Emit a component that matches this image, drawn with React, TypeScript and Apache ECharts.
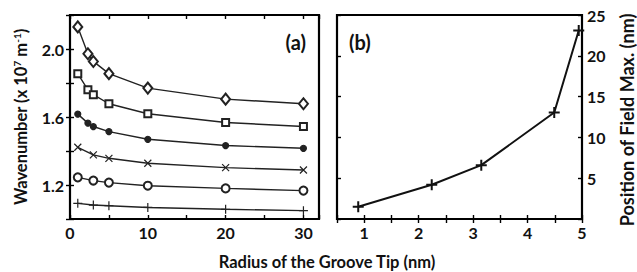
import React, { useEffect, useRef } from "react";
import * as echarts from "echarts";

// Panel (a): wavenumber vs radius of the groove tip
const radiusFull = [1, 2.3, 3, 5, 10, 20, 30];
const radiusShort = [1, 3, 5, 10, 20, 30];
const diamondVals = [2.13, 1.972, 1.927, 1.855, 1.77, 1.705, 1.678];
const squareVals = [1.855, 1.76, 1.731, 1.678, 1.619, 1.568, 1.544];
const dotVals = [1.617, 1.564, 1.544, 1.514, 1.469, 1.432, 1.416];
const crossVals = [1.422, 1.377, 1.357, 1.328, 1.302, 1.288];
const circleVals = [1.245, 1.226, 1.214, 1.196, 1.18, 1.167];
const plusVals = [1.092, 1.082, 1.078, 1.068, 1.057, 1.049];

// Panel (b): position of field max vs radius
const radiusB = [0.89, 2.24, 3.15, 4.49, 4.94];
const fieldMaxB = [1.5, 4.2, 6.6, 13.05, 23.1];

const aXLabels = [0, 10, 20, 30];
const aYLabels = ["1.2", "1.6", "2.0"];
const bXLabels = [1, 2, 3, 4, 5];
const bYLabels = [5, 10, 15, 20, 25];

const FONT = "Lato, 'Open Sans', sans-serif";
const INK = "#111";
const LINE = "#222";

const zip = (xs: number[], ys: number[]) => xs.map((x, i) => [x, ys[i]]);

const crossPath = "path://M0,0L10,10M10,0L0,10";
const plusPath = "path://M5,0L5,10M0,5L10,5";

export default function App() {
  const ref = useRef<HTMLDivElement>(null);
  useEffect(() => {
    if (!ref.current) return;
    const chart = echarts.init(ref.current, undefined, { renderer: "svg" });
    const tick = { show: true, inside: true, length: 4, lineStyle: { color: "#000", width: 1.4 } };
    const labelBase = { fontFamily: FONT, fontWeight: "bold" as const, fontSize: 16, color: INK };
    const lineSeries = (name: string, xs: number[], ys: number[], symbol: string, size: any) => ({
      name,
      type: "line",
      xAxisIndex: 0,
      yAxisIndex: 0,
      data: zip(xs, ys),
      symbol,
      symbolSize: size,
      lineStyle: { color: LINE, width: 1.4 },
      itemStyle: { color: LINE, borderColor: LINE, borderWidth: 1.2 },
      z: 3,
    });
    chart.setOption({
      animation: false,
      backgroundColor: "#fff",
      grid: [
        { left: 70, top: 15, width: 249, height: 204, show: true, borderColor: "#000", borderWidth: 2.2, containLabel: false, outerBoundsMode: "none" },
        { left: 337, top: 15, width: 245, height: 204, show: true, borderColor: "#000", borderWidth: 2.2, containLabel: false, outerBoundsMode: "none" },
      ],
      xAxis: [
        {
          type: "value", gridIndex: 0, position: "bottom", min: 0, max: 32, interval: 5,
          axisLine: { show: false }, axisTick: tick, splitLine: { show: false },
          axisLabel: {
            ...labelBase, margin: 5,
            formatter: (v: number) => (aXLabels.includes(v) ? String(v) : ""),
          },
        },
        {
          type: "value", gridIndex: 0, position: "top", min: 0, max: 32, interval: 5,
          axisLine: { show: false }, axisTick: tick, splitLine: { show: false }, axisLabel: { show: false },
        },
        {
          type: "value", gridIndex: 1, position: "bottom", min: 0.5, max: 5, interval: 0.5,
          axisLine: { show: false }, axisTick: tick, splitLine: { show: false },
          axisLabel: {
            ...labelBase, margin: 5,
            formatter: (v: number) => (bXLabels.includes(Math.round(v * 100) / 100) ? String(Math.round(v)) : ""),
          },
        },
        {
          type: "value", gridIndex: 1, position: "top", min: 0.5, max: 5, interval: 0.5,
          axisLine: { show: false }, axisTick: tick, splitLine: { show: false }, axisLabel: { show: false },
        },
      ],
      yAxis: [
        {
          type: "value", gridIndex: 0, position: "left", min: 1.0, max: 2.2, interval: 0.2,
          axisLine: { show: false }, axisTick: tick, splitLine: { show: false },
          axisLabel: {
            ...labelBase, margin: 6,
            formatter: (v: number) => {
              const s = (Math.round(v * 10) / 10).toFixed(1);
              return aYLabels.includes(s) ? s : "";
            },
          },
        },
        {
          type: "value", gridIndex: 0, position: "right", min: 1.0, max: 2.2, interval: 0.2,
          axisLine: { show: false }, axisTick: tick, splitLine: { show: false }, axisLabel: { show: false },
        },
        {
          type: "value", gridIndex: 1, position: "left", min: 0, max: 25, interval: 5,
          axisLine: { show: false }, axisTick: tick, splitLine: { show: false }, axisLabel: { show: false },
        },
        {
          type: "value", gridIndex: 1, position: "right", min: 0, max: 25, interval: 5,
          axisLine: { show: false }, axisTick: tick, splitLine: { show: false },
          axisLabel: {
            ...labelBase, margin: 5,
            formatter: (v: number) => (bYLabels.includes(v) ? String(v) : ""),
          },
        },
      ],
      series: [
        lineSeries("diamond", radiusFull, diamondVals, "emptyDiamond", [9, 11]),
        lineSeries("square", radiusFull, squareVals, "emptyRect", 7),
        lineSeries("dot", radiusFull, dotVals, "circle", 6),
        lineSeries("cross", radiusShort, crossVals, crossPath, 7),
        lineSeries("circle", radiusShort, circleVals, "emptyCircle", 8),
        lineSeries("plus", radiusShort, plusVals, plusPath, 9),
        {
          name: "fieldMax",
          type: "line",
          xAxisIndex: 2,
          yAxisIndex: 3,
          data: zip(radiusB, fieldMaxB),
          symbol: plusPath,
          symbolSize: 11,
          lineStyle: { color: "#111", width: 2 },
          itemStyle: { color: "#111", borderColor: "#111", borderWidth: 2 },
          z: 3,
        },
      ],
      graphic: [
        {
          type: "text", x: 21, y: 117, rotation: Math.PI / 2,
          style: {
            text: "{a|Wavenumber (x 10}{s|7}{a| m}{s|-1}{a|)}",
            align: "center", verticalAlign: "middle", fill: INK,
            rich: {
              a: { fontFamily: FONT, fontWeight: "bold", fontSize: 16.5, fill: INK, lineHeight: 18 },
              s: { fontFamily: FONT, fontWeight: "bold", fontSize: 10, fill: INK, verticalAlign: "top", lineHeight: 18 },
            },
          },
        },
        {
          type: "text", x: 327, y: 262,
          style: { text: "Radius of the Groove Tip (nm)", align: "center", verticalAlign: "middle", fill: INK, fontFamily: FONT, fontWeight: "bold", fontSize: 16.5 },
        },
        {
          type: "text", x: 627, y: 120, rotation: Math.PI / 2,
          style: { text: "Position of Field Max. (nm)", align: "center", verticalAlign: "middle", fill: INK, fontFamily: FONT, fontWeight: "bold", fontSize: 18 },
        },
        {
          type: "text", x: 306, y: 42,
          style: { text: "(a)", align: "right", verticalAlign: "middle", fill: INK, fontFamily: FONT, fontWeight: "bold", fontSize: 20 },
        },
        {
          type: "text", x: 349, y: 42,
          style: { text: "(b)", align: "left", verticalAlign: "middle", fill: INK, fontFamily: FONT, fontWeight: "bold", fontSize: 20 },
        },
      ],
    });
    return () => chart.dispose();
  }, []);
  return <div ref={ref} style={{ width: 637, height: 272, position: "absolute", left: 0, top: 0 }} />;
}
